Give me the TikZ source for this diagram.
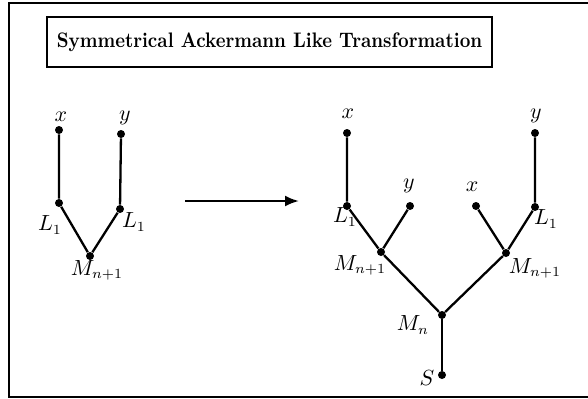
\documentclass[tikz,border=0pt]{standalone}
\usetikzlibrary{arrows.meta}
\begin{document}
\begin{tikzpicture}[x=0.5pt,y=-0.5pt,
  dot/.style={circle,fill=black,inner sep=0pt,minimum size=4pt},
  edge/.style={line width=1.15pt},
  lab/.style={inner sep=0pt,font=\fontsize{10.5}{12}\selectfont}]
\useasboundingbox (0,0) rectangle (588,398);
\draw[line width=1pt] (9,3) rectangle (610,397);
\node[draw,line width=1pt,minimum width=222.5pt,minimum height=25pt,inner sep=0pt,
  font=\fontsize{10}{12}\selectfont\bfseries] (title) at (269.5,42) {\scalebox{0.925}[1.05]{Symmetrical Ackermann Like Transformation}};

% left tree
\node[dot] (lx) at (59,130) {};
\node[dot] (ly) at (121,134) {};
\node[dot] (lL1) at (59,203) {};
\node[dot] (rL1) at (120,209) {};
\node[dot] (lM) at (90,256) {};
\draw[edge] (lx) -- (lL1) -- (lM) -- (rL1) -- (ly);
\node[lab] (tlx) at (61,117) {$x$};
\node[lab] (tly) at (125,118) {$y$};
\node[lab] (tlL1) at (50,225) {$L_1$};
\node[lab] (trL1) at (134,222) {$L_1$};
\node[lab] (tlM) at (97,270) {$M_{n+1}$};

% arrow
\coordinate (a1) at (185,201);
\coordinate (a2) at (299,201);
\draw[edge,-{Latex[length=7pt,width=5.5pt]}] (a1) -- (a2);

% right tree
\node[dot] (Rx) at (347,133) {};
\node[dot] (Ry) at (535,133) {};
\node[dot] (RlL1) at (347,206) {};
\node[dot] (Rym) at (410,206) {};
\node[dot] (Rxm) at (476,206) {};
\node[dot] (RrL1) at (535,207) {};
\node[dot] (RlM) at (381,252) {};
\node[dot] (RrM) at (506,253) {};
\node[dot] (RMn) at (442,315) {};
\node[dot] (RS) at (442,375) {};
\draw[edge] (Rx) -- (RlL1) -- (RlM) -- (RMn) -- (RrM) -- (RrL1) -- (Ry);
\draw[edge] (RlM) -- (Rym);
\draw[edge] (RrM) -- (Rxm);
\draw[edge] (RMn) -- (RS);
\node[lab] (tRx) at (348,114) {$x$};
\node[lab] (tRy) at (536,116) {$y$};
\node[lab] (tRlL1) at (345,217) {$L_1$};
\node[lab] (tRym) at (409,186) {$y$};
\node[lab] (tRxm) at (472,187) {$x$};
\node[lab] (tRrL1) at (546,219) {$L_1$};
\node[lab] (tRlM) at (360,265) {$M_{n+1}$};
\node[lab] (tRrM) at (535,268) {$M_{n+1}$};
\node[lab] (tRMn) at (413,325) {$M_n$};
\node[lab] (tRS) at (427,378) {$S$};
\end{tikzpicture}
\end{document}
